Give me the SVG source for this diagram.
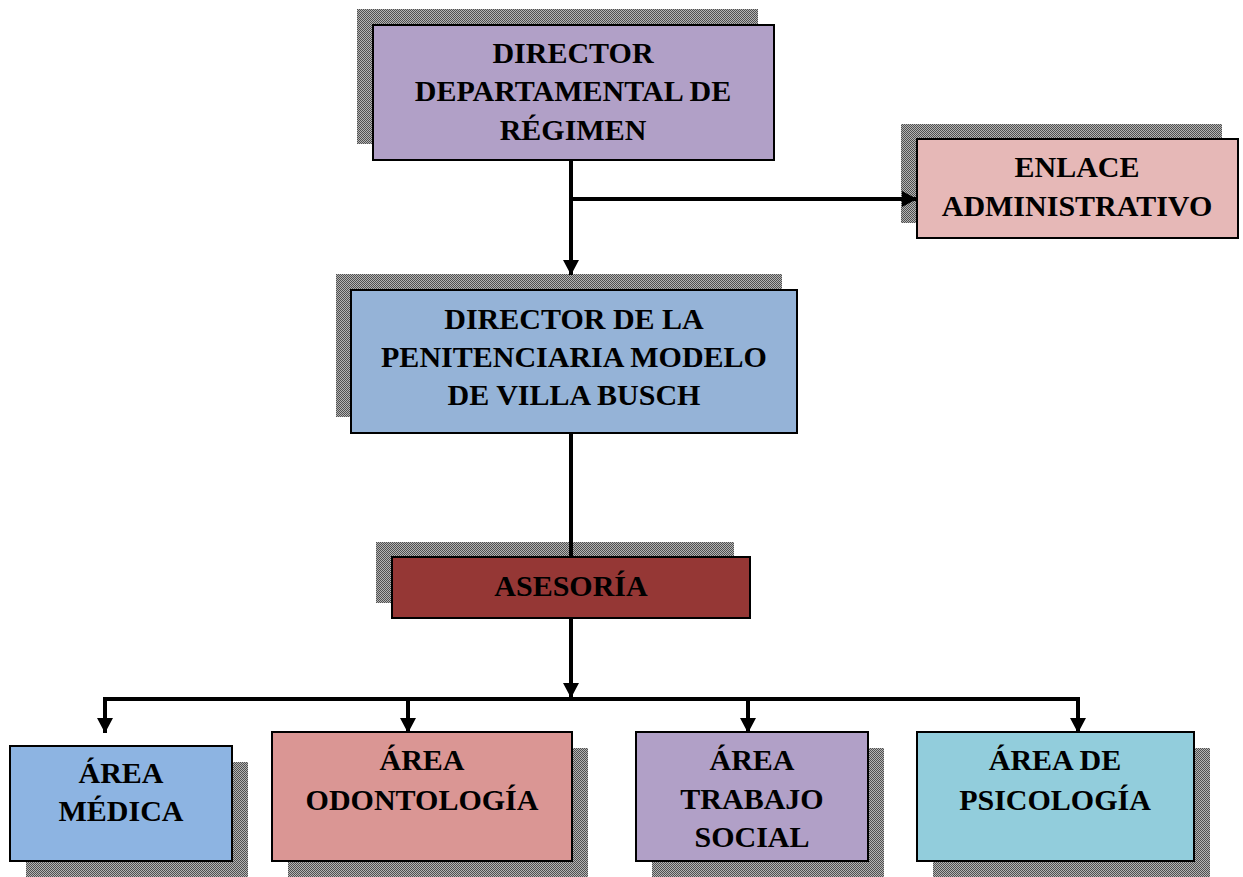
<svg xmlns="http://www.w3.org/2000/svg" width="1243" height="877" viewBox="0 0 1243 877">
<defs>
<pattern id="dots" width="2" height="2" patternUnits="userSpaceOnUse">
<rect width="2" height="2" fill="#b4b4b4"/>
<rect width="1" height="1" fill="#505050"/>
<rect x="1" y="1" width="1" height="1" fill="#505050"/>
</pattern>
<marker id="arr" markerUnits="userSpaceOnUse" markerWidth="16" markerHeight="16" refX="15" refY="8" orient="auto">
<path d="M0,0 L15,8 L0,16 z" fill="#000"/>
</marker>
</defs>
<style>
.sh{fill:url(#dots);}
.bx{stroke:#000;stroke-width:2;}
.t{font-family:"Liberation Serif","Times New Roman",serif;font-weight:bold;font-size:30px;text-anchor:middle;fill:#000;}
.c{fill:none;stroke:#000;stroke-width:4;}
</style>
<rect width="1243" height="877" fill="#fff"/>
<g id="director-departamental">
<rect class="sh" x="357" y="9" width="401" height="135"/>
<rect class="bx" x="373" y="25" width="401" height="135" fill="#b1a0c7"/>
<text class="t" x="573" y="63">DIRECTOR</text>
<text class="t" x="573" y="101">DEPARTAMENTAL DE</text>
<text class="t" x="573" y="140">RÉGIMEN</text>
</g>
<g id="enlace-administrativo">
<rect class="sh" x="901" y="124" width="321" height="99"/>
<rect class="bx" x="917" y="139" width="321" height="99" fill="#e6b8b7"/>
<text class="t" x="1077" y="177">ENLACE</text>
<text class="t" x="1077" y="216">ADMINISTRATIVO</text>
</g>
<g id="director-penitenciaria">
<rect class="sh" x="336" y="274" width="446" height="143"/>
<rect class="bx" x="351" y="290" width="446" height="143" fill="#95b3d7"/>
<text class="t" x="574" y="329">DIRECTOR DE LA</text>
<text class="t" x="574" y="367">PENITENCIARIA MODELO</text>
<text class="t" x="574" y="405">DE VILLA BUSCH</text>
</g>
<g id="asesoria">
<rect class="sh" x="376" y="542" width="358" height="61"/>
<rect class="bx" x="392" y="557" width="358" height="61" fill="#953735"/>
<text class="t" x="571" y="596">ASESORÍA</text>
</g>
<g id="area-medica">
<rect class="sh" x="26" y="762" width="222" height="115"/>
<rect class="bx" x="10" y="746" width="222" height="115" fill="#8db4e2"/>
<text class="t" x="121" y="783">ÁREA</text>
<text class="t" x="121" y="821">MÉDICA</text>
</g>
<g id="area-odontologia">
<rect class="sh" x="288" y="748" width="300" height="129"/>
<rect class="bx" x="272" y="732" width="300" height="129" fill="#da9694"/>
<text class="t" x="422" y="770">ÁREA</text>
<text class="t" x="422" y="810">ODONTOLOGÍA</text>
</g>
<g id="area-trabajo-social">
<rect class="sh" x="652" y="748" width="232" height="129"/>
<rect class="bx" x="636" y="732" width="232" height="129" fill="#b1a0c7"/>
<text class="t" x="752" y="770">ÁREA</text>
<text class="t" x="752" y="809">TRABAJO</text>
<text class="t" x="752" y="847">SOCIAL</text>
</g>
<g id="area-psicologia">
<rect class="sh" x="933" y="748" width="277" height="129"/>
<rect class="bx" x="917" y="732" width="277" height="129" fill="#92cddc"/>
<text class="t" x="1055" y="770">ÁREA DE</text>
<text class="t" x="1055" y="810">PSICOLOGÍA</text>
</g>
<g id="connectors">
<path class="c" d="M571,161 V275" marker-end="url(#arr)"/>
<path class="c" d="M571,199 H917" marker-end="url(#arr)"/>
<path class="c" d="M571,434 V556"/>
<path class="c" d="M571,619 V698" marker-end="url(#arr)"/>
<path class="c" d="M103,699 H1080"/>
<path class="c" d="M105,697 V733" marker-end="url(#arr)"/>
<path class="c" d="M408,697 V733" marker-end="url(#arr)"/>
<path class="c" d="M748,697 V733" marker-end="url(#arr)"/>
<path class="c" d="M1078,697 V733" marker-end="url(#arr)"/>
</g>
</svg>
